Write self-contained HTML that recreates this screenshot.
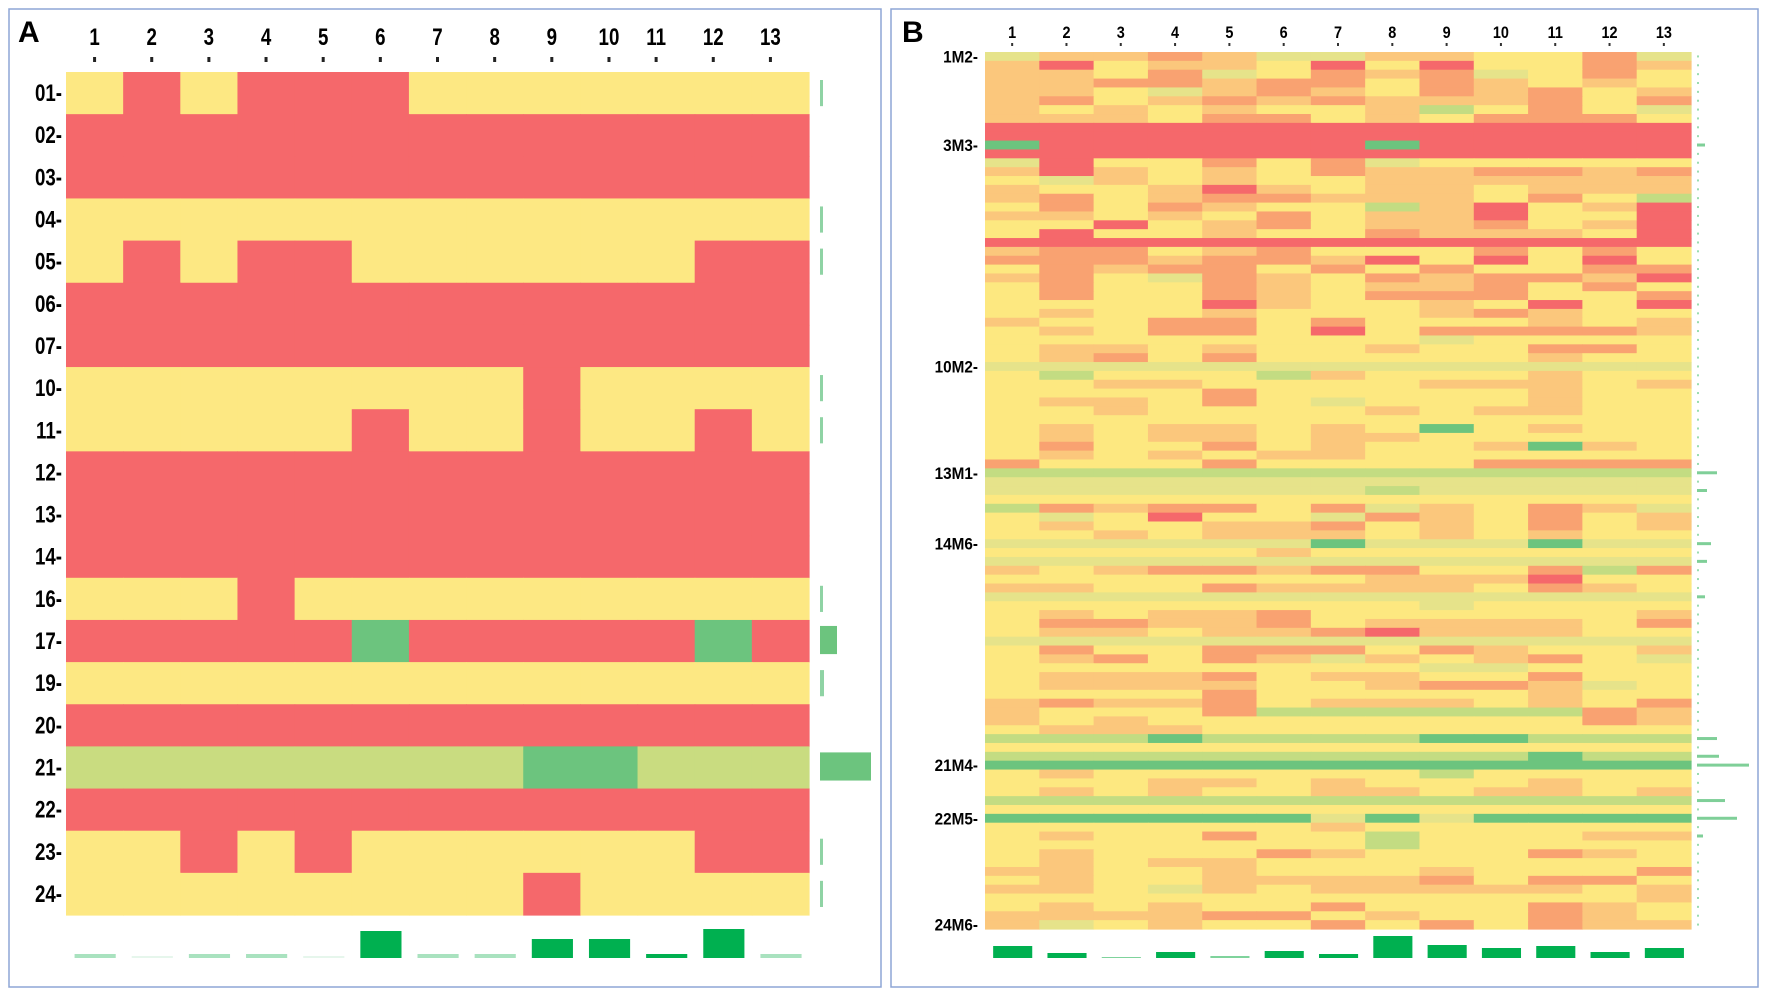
<!DOCTYPE html>
<html><head><meta charset="utf-8"><style>
html,body{margin:0;padding:0;background:#fff;}
svg{display:block;font-family:"Liberation Sans",sans-serif;}
</style></head><body>
<svg id="chart" width="1772" height="998" viewBox="0 0 1772 998" xmlns="http://www.w3.org/2000/svg">
<rect x="9" y="9" width="872" height="978" fill="none" stroke="#8ea5d6" stroke-width="1.5"/>
<rect x="891" y="9" width="867" height="978" fill="none" stroke="#8ea5d6" stroke-width="1.5"/>
<text x="18" y="42" font-size="30" font-weight="bold">A</text>
<text x="902" y="42" font-size="30" font-weight="bold">B</text>
<g id="ga"></g><g id="gb"></g>
</svg>
<script>
// ---- Panel A data ----
const aCols = ["1","2","3","4","5","6","7","8","9","10","11","12","13"];
const aRows = ["01","02","03","04","05","06","07","10","11","12","13","14","16","17","19","20","21","22","23","24"].filter(r=>r!=="");
const aCells = [
"YRYRRRYYYYYYY","RRRRRRRRRRRRR","RRRRRRRRRRRRR","YYYYYYYYYYYYY","YRYRRYYYYYYRR",
"RRRRRRRRRRRRR","RRRRRRRRRRRRR","YYYYYYYYRYYYY","YYYYYRYYRYYRY","RRRRRRRRRRRRR",
"RRRRRRRRRRRRR","RRRRRRRRRRRRR","YYYRYYYYYYYYY","RRRRRGRRRRRGR","YYYYYYYYYYYYY",
"RRRRRRRRRRRRR","LLLLLLLLGGLLL","RRRRRRRRRRRRR","YYRYRYYYYYYRR","YYYYYYYYRYYYY"];
const aSide = [3,0,0,3,3,0,0,3,3,0,0,0,3,17,4,0,51,0,3,3];
const aBottom = [4,2,4,4,2,27,4,4,19,19,4,29,4];
const aBottomDark = [0,0,0,0,0,1,0,0,1,1,1,1,0];

// ---- Panel B data ----
const bCols = ["1","2","3","4","5","6","7","8","9","10","11","12","13"];
const bRowLabels = [["1M2",0],["3M3",10],["10M2",35],["13M1",47],["14M6",55],["21M4",80],["22M5",86],["24M6",98]];
const bCells = [
"looOollooYYOlO".slice(0,13),"oRYooYRYRYYOo","ooYOlYOoOlYOY","ooOOoOOYOoYoY","ooYloOoYOoOYo",
"oOYoOoOoooOYO","oYoYoYYogYOYl","oooYOOYoYOOOY","RRRRRRRRRRRRR","RRRRRRRRRRRRR",
"GRRRRRRGRRRRR","RRRRRRRRRRRRR","lRYYOYOlYYYYY","oRoYoYOooOOoO","YloYoYYooooooY".slice(0,13),
"oYYoRoYooYooo","oOYoOOoooYOYg","YOYOoYYgoRYoR","ooYoYOYooRYYR","YYRYoOYooOYoR",
"YRYYoYYOoooYR","RRRRRRRRRRRRR","oOOYoOYYYOYOY","OOOoOOoRYRYRY","YOoOOYOYOYYOO",
"oOYlOoYOoOOoR","YOYYOoYooOYOY","YOYYOoYOOOYYO","YYYYRoYYoYRYR","YoYYoYYYoOoYY",
"oYYOOYOYYYoYo","YoYOOYRYOOOOo","YYYYYYYYlYYYY","YooYoYYoYYOOY","YoOYOYYYYYoYY",
"lllllllllllll","YgYYYgoYYYoYY","YYooYYYYoooYo","YYYYOYYYYYoYY","YooYOYlYYYoYY",
"YYoYYYYoYooYY","YYYYYYYYYYYYY","YoYooYoYGYoYY","YoYooYooYYYYY","YOYYOYoYYoGoY",
"YoYoYooYYYYYY","OYYYOYYYYOOOO","ggggggggggggg","lllllllllllll","lllllllglllll",
"YYYYYYYYYYYYY","gOoOOYOloYOol","YlYRYYlOoYOYo","YoYYooOYoYOYo","YYoYoooYoYoYY",
"llllllGlllGll","YYYYYoYYYYYYY","lllllllllllll","oYoOOoOOYYOgO","YYYYYYYoooRYY",
"ooYYOooooYOoY","lllllllllllll","YYYYYYYYlYYYY","YoYooOYYYYYYo","YOOooOYooooYO",
"YooYooORoooYY","lllllllllllll","YOYYOOOYOoYYo","YoOYOolоYoOYl".replace("о","o"),"YYYYYYYYllYYY",
"YoooOYooYYOYY","YooooYYoOOolY","YYYYOYYYYYoYY","oOooOYoooYoYO","oYYYOggggggOo",
"oYoYYYYYYYYOo","YoooYYYYYYYYY","gggGggggGGggg","YYYYYYYYYYYYY","ggggggggggGgg",
"GGGGGGGGGGGGG","YoYYYYYYgYYYY","YYYooYoYYYoYY","YoYoYYooYooYo","ggggggggggggg",
"YYYYYYYYYYYYY","GGGGGGlGlGGGG","YYYYYYoYYYYYY","YoYYOYYgYYYoo","YYYYYYYgYYYYY",
"YoYYYOoYYYOoY","YoYooYYYYYYYY","ooYYoYYYoYYYO","YoYYoooo OYOOY".replace(" ",""),"ooYloYoooooYo",
"YYYYYYYYYYYYo","YoYoYYOYYYOoY","ooooOOYoYYOoY","olYoYYOYOYOoo"];
const bSide = {10:8,47:20,49:10,55:14,57:10,61:8,77:20,79:22,80:52,84:28,86:40,88:6};
const bBottom = [12,5,1,6,2,7,4,22,13,10,12,6,10];

const colA = {Y:"#fde883",R:"#f5686b",G:"#6cc47e",L:"#c9dc80"};
const colB = {Y:"#fde880",o:"#fbc77c",O:"#f9a271",R:"#f5686b",l:"#e6e38a",g:"#c3dc82",G:"#6cc47e"};
const NS="http://www.w3.org/2000/svg";
function mk(tag,attrs,parent){const e=document.createElementNS(NS,tag);for(const k in attrs)e.setAttribute(k,attrs[k]);parent.appendChild(e);return e;}

// ---- Panel A ----
(function(){
const g=document.getElementById('ga');
const x0=66,x1=809,y0=72,y1=915;
const cw=(x1-x0)/aCols.length, rh=(y1-y0)/aRows.length;
const xA=i=>x0+i*cw, yA=j=>y0+j*rh;
aRows.forEach((r,j)=>{
  for(let i=0;i<aCols.length;i++){
    const c=mk('rect',{x:xA(i),y:yA(j),width:cw+0.6,height:rh+0.6,fill:colA[aCells[j][i]]},g);
    
    
  }
  const t=mk('text',{x:0,y:0,'font-size':24,'font-weight':'bold','text-anchor':'end',transform:`translate(62,${yA(j)+rh/2+8}) scale(0.78,1)`},g);
  t.textContent=r+'-';
  
  
  if(aSide[j]>0){
    const b=mk('rect',{x:820,y:yA(j)+(aSide[j]>10?6:8),width:aSide[j],height:aSide[j]>10?rh-14:rh-16,fill:aSide[j]>10?"#6cc47e":"#8fd3a4"},g);
    
    
  }
});
aCols.forEach((c,i)=>{
  const t=mk('text',{x:0,y:0,'font-size':24,'font-weight':'bold','text-anchor':'middle',transform:`translate(${xA(i)+cw/2+(i>=10?-10:0)},45) scale(0.78,1)`},g);
  t.textContent=c;
  
  
  mk('rect',{x:xA(i)+cw/2-1.5+(i>=10?-10:0),y:57,width:3,height:5,fill:'#222'},g);
  const h=aBottom[i];
  const b=mk('rect',{x:xA(i)+cw*0.15,y:958-h,width:cw*0.72,height:h,fill:aBottomDark[i]?"#00b050":(h<3?"#e6f6ec":"#a9e2bf")},g);
  
  
});
})();

// ---- Panel B ----
(function(){
const g=document.getElementById('gb');
const x0=985,x1=1691,y0=52,y1=929;
const n=bCells.length;
const cw=(x1-x0)/bCols.length, rh=(y1-y0)/n;
const xB=i=>x0+i*cw, yB=j=>y0+j*rh;
bCells.forEach((row,j)=>{
  for(let i=0;i<bCols.length;i++){
    const c=mk('rect',{x:xB(i),y:yB(j),width:cw+0.6,height:rh+0.6,fill:colB[row[i]]||colB.Y},g);
    
    
  }
  mk('rect',{x:1697,y:yB(j)+rh/2-1,width:2,height:2,fill:'#9bdcb0'},g);
  if(bSide[j]){
    const b=mk('rect',{x:1697,y:yB(j)+rh/2-1.5,width:bSide[j],height:3,fill:"#7fcf98"},g);
    
    
  }
});
bRowLabels.forEach(([lab,j])=>{
  const t=mk('text',{x:0,y:0,'font-size':17,'font-weight':'bold','text-anchor':'end',transform:`translate(978,${yB(j)+rh/2+6}) scale(0.9,1)`},g);
  t.textContent=lab+'-';
  
  
});
bCols.forEach((c,i)=>{
  const t=mk('text',{x:0,y:0,'font-size':17,'font-weight':'bold','text-anchor':'middle',transform:`translate(${xB(i)+cw/2},38) scale(0.85,1)`},g);
  t.textContent=c;
  
  
  mk('rect',{x:xB(i)+cw/2-1,y:43,width:2,height:3,fill:'#333'},g);
  const h=bBottom[i];
  const b=mk('rect',{x:xB(i)+cw*0.15,y:958-h,width:cw*0.72,height:h,fill:h<3?"#7fd39c":"#00b050"},g);
  
  
});
})();
</script>
</body></html>
